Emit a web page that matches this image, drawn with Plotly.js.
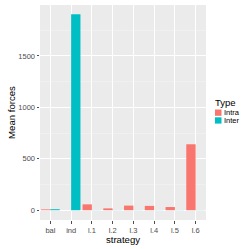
<!DOCTYPE html>
<html><head><meta charset="utf-8">
<script src="https://cdn.plot.ly/plotly-3.0.1.min.js"></script>
<style>html,body{margin:0;padding:0;background:#fff;}#c{width:249px;height:249px;}</style>
</head><body><div id="c"></div>
<script>
var strategies = ["bal","ind","l.1","l.2","l.3","l.4","l.5","l.6"];
var intraValues = [8, 0, 57, 18, 45, 42, 31, 641];
var interValues = [10, 1905, 1, 1, 1, 1, 1, 1];
var seriesNames = ["Intra","Inter"];
var seriesColors = ["#F8766D","#00BFC4"];
var yTicks = [0, 500, 1000, 1500];

var traces = [
  {type:"bar", name:seriesNames[0], x:strategies, y:intraValues, marker:{color:seriesColors[0]}},
  {type:"bar", name:seriesNames[1], x:strategies, y:interValues, marker:{color:seriesColors[1]}}
];

(function(){
  var L = 40, R = 43, T = 5, B = 29, W = 249, H = 249;
  var pw = W - L - R, ph = H - T - B;
  function px(x){ return (x - L) / pw; }
  function py(y){ return (H - B - y) / ph; }

  var shapes = [], annotations = [];
  annotations.push({xref:"paper", yref:"paper", x:px(213.5), y:py(102), xanchor:"left", yanchor:"middle",
    text:"Type", showarrow:false, font:{size:9.5, color:"#000"}});
  for (var i = 0; i < seriesNames.length; i++) {
    var keyTop = 109.5 + i * 7.8;
    shapes.push({type:"rect", xref:"paper", yref:"paper", x0:px(215), x1:px(221.5), y0:py(keyTop + 6.3), y1:py(keyTop),
      fillcolor:seriesColors[i], line:{width:0}});
    annotations.push({xref:"paper", yref:"paper", x:px(222), y:py(keyTop + 3.2), xanchor:"left", yanchor:"middle",
      text:seriesNames[i], showarrow:false, font:{size:7.5, color:"#000"}});
  }

  var layout = {
    width:W, height:H,
    margin:{l:L, r:R, t:T, b:B, pad:0},
    paper_bgcolor:"#ffffff", plot_bgcolor:"#EBEBEB",
    font:{family:"Liberation Sans, Arial, sans-serif", size:7.5, color:"#4D4D4D"},
    barmode:"group", bargap:0.1, bargroupgap:0,
    showlegend:false,
    xaxis:{type:"category", showgrid:true, gridcolor:"#ffffff", gridwidth:1, zeroline:false,
      ticks:"outside", ticklen:2.5, tickcolor:"#4D4D4D", tickfont:{size:7.5, color:"#4D4D4D"},
      title:{text:"strategy", font:{size:9.6, color:"#000"}, standoff:1}},
    yaxis:{range:[-95,1995], tickvals:yTicks, showgrid:true, gridcolor:"#ffffff", gridwidth:1, zeroline:false,
      minor:{dtick:250, tick0:250, showgrid:true, gridcolor:"#F5F5F5", gridwidth:0.5},
      ticks:"outside", ticklen:2.5, tickcolor:"#4D4D4D", tickfont:{size:7.5, color:"#4D4D4D"},
      title:{text:"Mean forces", font:{size:9.6, color:"#000"}, standoff:0}},
    shapes:shapes, annotations:annotations
  };
  Plotly.newPlot("c", traces, layout, {displayModeBar:false, staticPlot:true});
})();
</script></body></html>
